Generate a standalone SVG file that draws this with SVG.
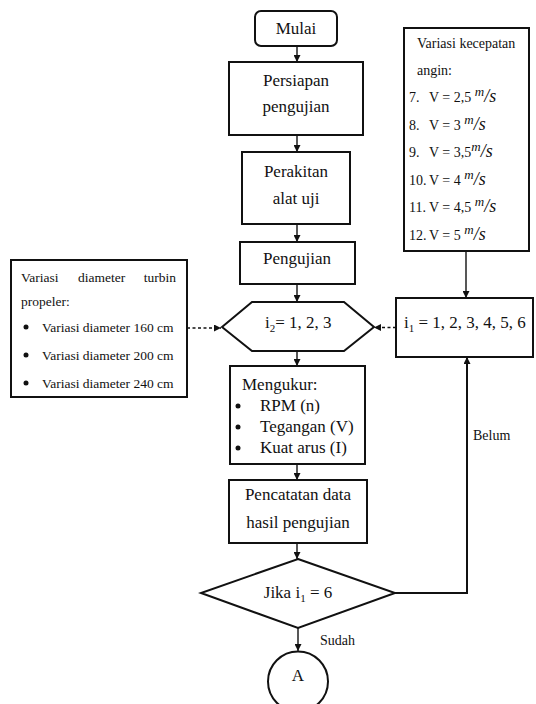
<svg xmlns="http://www.w3.org/2000/svg" width="536" height="704" viewBox="0 0 536 704">
<defs>
<style>
.box{fill:#fff;stroke:#111;stroke-width:2}
.t{font-family:"Liberation Serif","Times New Roman",serif;font-size:17px;fill:#111}
.tm{text-anchor:middle}
.s{font-size:14px}
.xs{font-size:13.5px}
.lb{font-size:14px}
.ln{fill:none;stroke:#111;stroke-width:1.4}
.dash{stroke-dasharray:3,2.5}
.it{font-style:italic}
</style>
<marker id="ah" viewBox="0 0 10 10" refX="10" refY="5" markerWidth="7" markerHeight="7" markerUnits="userSpaceOnUse" orient="auto"><path d="M0,0 L10,5 L0,10 z" fill="#111"/></marker>
</defs>
<rect width="536" height="704" fill="#fff"/>

<g id="connectors">
<path class="ln" d="M297,46 V62" marker-end="url(#ah)"/>
<path class="ln" d="M297,135 V152" marker-end="url(#ah)"/>
<path class="ln" d="M297,224 V242" marker-end="url(#ah)"/>
<path class="ln" d="M297,284 V302" marker-end="url(#ah)"/>
<path class="ln" d="M297,351 V366" marker-end="url(#ah)"/>
<path class="ln" d="M297,464 V480" marker-end="url(#ah)"/>
<path class="ln" d="M297,543 V559" marker-end="url(#ah)"/>
<path class="ln" d="M298,628 V651" marker-end="url(#ah)"/>
<path class="ln" d="M466,251 V298" marker-end="url(#ah)"/>
<path class="ln dash" d="M396,327.5 H374" marker-end="url(#ah)"/>
<path class="ln dash" d="M187,328 H221" marker-end="url(#ah)"/>
<path class="ln" style="stroke-width:2" d="M395,593 H467 V357" marker-end="url(#ah)"/>
<text class="t lb" x="473" y="440">Belum</text>
<text class="t lb" x="320" y="645">Sudah</text>
</g>

<g id="mulai">
<rect class="box" x="255" y="11" width="82" height="35" rx="6"/>
<text class="t tm" x="296" y="34">Mulai</text>
</g>

<g id="persiapan">
<rect class="box" x="229" y="62" width="134" height="73"/>
<text class="t tm" x="296" y="86">Persiapan</text>
<text class="t tm" x="296" y="112">pengujian</text>
</g>

<g id="perakitan">
<rect class="box" x="242" y="152" width="108" height="72"/>
<text class="t tm" x="296" y="177">Perakitan</text>
<text class="t tm" x="296" y="204">alat uji</text>
</g>

<g id="pengujian">
<rect class="box" x="240" y="242" width="115" height="42"/>
<text class="t tm" x="297" y="264">Pengujian</text>
</g>

<g id="loop-i2">
<polygon class="box" points="222,327 252,302 344,302 374,327 344,351 252,351"/>
<text class="t" x="265" y="328">i<tspan font-size="11" dy="4">2</tspan><tspan dy="-4">= 1, 2, 3</tspan></text>
</g>

<g id="loop-i1">
<rect class="box" x="396" y="298" width="137" height="59"/>
<text class="t" x="404" y="328">i<tspan font-size="11" dy="4">1</tspan><tspan dy="-4"> = 1, 2, 3, 4, 5, 6</tspan></text>
</g>

<g id="variasi-angin">
<rect class="box" x="404" y="28" width="125" height="223"/>
<text class="t s" x="417" y="48">Variasi kecepatan</text>
<text class="t s" x="417" y="75">angin:</text>
<text class="t s" x="409" y="102">7.</text>
<text class="t s" x="429" y="102">V = 2,5 <tspan class="it" font-size="13" dy="-6">m</tspan><tspan class="it" font-size="18" dy="6">/s</tspan></text>
<text class="t s" x="409" y="129.5">8.</text>
<text class="t s" x="429" y="129.5">V = 3 <tspan class="it" font-size="13" dy="-6">m</tspan><tspan class="it" font-size="18" dy="6">/s</tspan></text>
<text class="t s" x="409" y="157">9.</text>
<text class="t s" x="429" y="157">V = 3,5<tspan class="it" font-size="13" dy="-6">m</tspan><tspan class="it" font-size="18" dy="6">/s</tspan></text>
<text class="t s" x="409" y="184.5">10.</text>
<text class="t s" x="429" y="184.5">V = 4 <tspan class="it" font-size="13" dy="-6">m</tspan><tspan class="it" font-size="18" dy="6">/s</tspan></text>
<text class="t s" x="409" y="212">11.</text>
<text class="t s" x="429" y="212">V = 4,5 <tspan class="it" font-size="13" dy="-6">m</tspan><tspan class="it" font-size="18" dy="6">/s</tspan></text>
<text class="t s" x="409" y="239.5">12.</text>
<text class="t s" x="429" y="239.5">V = 5 <tspan class="it" font-size="13" dy="-6">m</tspan><tspan class="it" font-size="18" dy="6">/s</tspan></text>
</g>

<g id="variasi-diameter">
<rect class="box" x="11" y="260" width="176" height="137"/>
<text class="t xs" x="21" y="281.5">Variasi</text>
<text class="t xs" x="78" y="281.5">diameter</text>
<text class="t xs" x="176" y="281.5" text-anchor="end">turbin</text>
<text class="t xs" x="21" y="306">propeler:</text>
<circle cx="26" cy="327" r="2.5" fill="#111"/>
<text class="t xs" x="42" y="331.5">Variasi diameter 160 cm</text>
<circle cx="26" cy="355" r="2.5" fill="#111"/>
<text class="t xs" x="42" y="359.5">Variasi diameter 200 cm</text>
<circle cx="26" cy="383" r="2.5" fill="#111"/>
<text class="t xs" x="42" y="387.5">Variasi diameter 240 cm</text>
</g>

<g id="mengukur">
<rect class="box" x="230" y="366" width="135" height="98"/>
<text class="t" x="242" y="390">Mengukur:</text>
<circle cx="238" cy="406" r="2.5" fill="#111"/>
<text class="t" x="260" y="411">RPM (n)</text>
<circle cx="238" cy="427" r="2.5" fill="#111"/>
<text class="t" x="260" y="432">Tegangan (V)</text>
<circle cx="238" cy="448" r="2.5" fill="#111"/>
<text class="t" x="260" y="453">Kuat arus (I)</text>
</g>

<g id="pencatatan">
<rect class="box" x="229" y="480" width="138" height="63"/>
<text class="t tm" x="298" y="500">Pencatatan data</text>
<text class="t tm" x="298" y="528">hasil pengujian</text>
</g>

<g id="keputusan">
<polygon class="box" points="298,559 395,593 298,628 201,593"/>
<text class="t tm" x="298" y="598">Jika i<tspan font-size="11" dy="4">1</tspan><tspan dy="-4"> = 6</tspan></text>
</g>

<g id="konektor-a">
<circle class="box" cx="298" cy="681.5" r="30"/>
<text class="t tm" x="298" y="681">A</text>
</g>
</svg>
